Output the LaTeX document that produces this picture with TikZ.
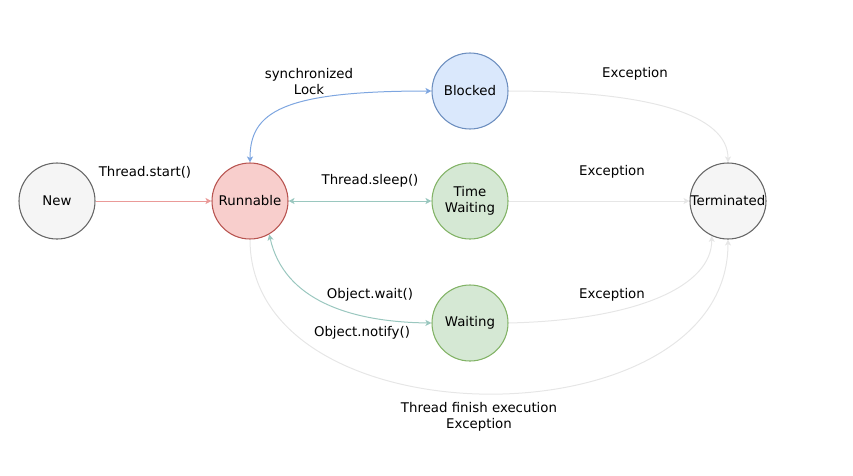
\documentclass[tikz,border=0pt]{standalone}
\usepackage{fontspec}
\setmainfont{DejaVu Sans}
\usetikzlibrary{arrows.meta}
\definecolor{grayfill}{HTML}{F5F5F5}
\definecolor{graydraw}{HTML}{666666}
\definecolor{redfill}{HTML}{F8CECC}
\definecolor{reddraw}{HTML}{B85450}
\definecolor{bluefill}{HTML}{DAE8FC}
\definecolor{bluedraw}{HTML}{6C8EBF}
\definecolor{greenfill}{HTML}{D5E8D4}
\definecolor{greendraw}{HTML}{82B366}
\definecolor{redline}{HTML}{EA9A98}
\definecolor{blueline}{HTML}{7EA6E0}
\definecolor{tealline}{HTML}{9AC7BF}
\definecolor{lightline}{HTML}{E6E6E6}
\tikzset{
  state/.style={circle, minimum size=57pt, inner sep=0pt, line width=0.8pt, align=center, font=\fontsize{10pt}{12pt}\selectfont},
  lbl/.style={align=center, font=\fontsize{10pt}{12pt}\selectfont, inner sep=0pt},
  tip/.style={-{Stealth[length=4.5pt,width=4.5pt,inset=1.1pt]}},
  tips/.style={{Stealth[length=4.5pt,width=4.5pt,inset=1.1pt]}-{Stealth[length=4.5pt,width=4.5pt,inset=1.1pt]}},
  conn/.style={line width=0.75pt}
}
\begin{document}
\begin{tikzpicture}[x=0.75pt,y=-0.75pt]
\useasboundingbox (0,0) rectangle (853,475);
\node[state, fill=grayfill, draw=graydraw] (new) at (57,201) {New};
\node[state, fill=redfill, draw=reddraw] (run) at (250,201) {Runnable};
\node[state, fill=bluefill, draw=bluedraw] (blk) at (470,91) {Blocked};
\node[state, fill=greenfill, draw=greendraw] (tw) at (470,201) {Time\\Waiting};
\node[state, fill=greenfill, draw=greendraw] (wt) at (470,323) {Waiting};
\node[state, fill=grayfill, draw=graydraw] (term) at (728,201) {Terminated};

\coordinate (runN) at (run.north);
\coordinate (runS) at (run.south);
\coordinate (runSE) at (run.-60);
\coordinate (termN) at (term.north);
\coordinate (termS) at (term.south);
\coordinate (termSW) at (term.-115);

\draw[conn, tip, draw=redline] (new) -- (run);
\draw[conn, tips, draw=blueline] (runN) .. controls (250,112) and (282,91) .. (blk.west);
\draw[conn, tips, draw=tealline] (run) -- (tw);
\draw[conn, tips, draw=tealline] (runSE) .. controls (284,300) and (350,322) .. (wt.west);
\draw[conn, tip, draw=lightline] (blk.east) .. controls (650,91) and (728,115) .. (termN);
\draw[conn, tip, draw=lightline] (tw) -- (term);
\draw[conn, tip, draw=lightline] (wt.east) .. controls (640,320) and (712,285) .. (termSW);
\draw[conn, tip, draw=lightline] (runS) .. controls (250,445) and (728,445) .. (termS);

\node[lbl] (l1) at (145,172) {Thread.start()};
\node[lbl] (l2) at (309,82) {synchronized\\Lock};
\node[lbl] (l3) at (370,181) {Thread.sleep()};
\node[lbl] (l4) at (370,295) {Object.wait()};
\node[lbl] (l5) at (362,333) {Object.notify()};
\node[lbl] (l6) at (635,74) {Exception};
\node[lbl] (l7) at (612,172) {Exception};
\node[lbl] (l8) at (612,295) {Exception};
\node[lbl] (l9) at (479,417) {Thread finish execution\\Exception};
\end{tikzpicture}
\end{document}
